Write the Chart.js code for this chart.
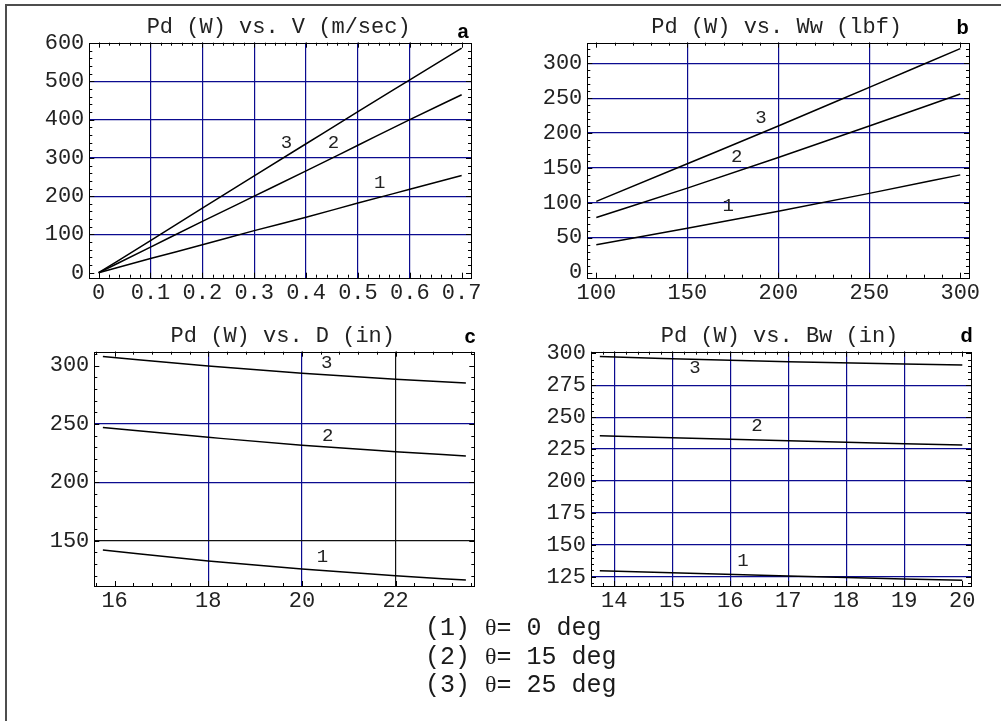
<!DOCTYPE html>
<html>
<head>
<meta charset="utf-8">
<script src="https://cdn.jsdelivr.net/npm/chart.js@4.4.0/dist/chart.umd.min.js"></script>
<style>
body { margin:0; background:#fff; width:1001px; height:721px; overflow:hidden; position:relative; }
canvas { position:absolute; }
#frame { position:absolute; left:5px; top:4px; width:1100px; height:800px;
  border-left:2px solid #4d4d4d; border-top:2px solid #4d4d4d; }
#legend { position:absolute; left:425px; top:615px; font:25px "Liberation Mono", monospace;
  color:#1a1a1a; white-space:pre; }
#legend div { height:28.5px; line-height:28.5px; overflow:visible; }
#legend .th { font-family:"Liberation Serif", serif; font-size:24px; line-height:0; }
</style>
</head>
<body>
<div id="frame"></div>
<canvas id="ca" width="500" height="310" style="left:0;top:0"></canvas>
<canvas id="cb" width="501" height="310" style="left:500px;top:0"></canvas>
<canvas id="cc" width="500" height="310" style="left:0;top:310px"></canvas>
<canvas id="cd" width="501" height="310" style="left:500px;top:310px"></canvas>
<div id="legend"></div>
<script>
// (a) Pd (W) vs. V (m/sec)
var vSpeed = [0, 0.1, 0.2, 0.3, 0.4, 0.5, 0.6, 0.7];
var pdV1 = [0, 37, 73, 110, 145, 182, 218, 254];
var pdV2 = [0, 67, 134, 200, 266, 333, 400, 465];
var pdV3 = [0, 84, 169, 253, 337, 421, 504, 587];
var vTicks = [0, 0.1, 0.2, 0.3, 0.4, 0.5, 0.6, 0.7];
var pdVTicks = [0, 100, 200, 300, 400, 500, 600];

// (b) Pd (W) vs. Ww (lbf)
var wWeight = [100, 150, 200, 250, 300];
var pdW1 = [40, 63.5, 88, 113.5, 140];
var pdW2 = [79, 121, 165, 210, 256];
var pdW3 = [102, 156, 210, 265.5, 321];
var wTicks = [100, 150, 200, 250, 300];
var pdWTicks = [0, 50, 100, 150, 200, 250, 300];

// (c) Pd (W) vs. D (in)
var dDiam = [15.75, 18, 20, 22, 23.5];
var pdD1 = [142, 132.6, 125.7, 120, 116.3];
var pdD2 = [247, 238.6, 231.7, 226.3, 222.6];
var pdD3 = [307.7, 299.7, 293.4, 288.3, 285.1];
var dTicks = [16, 18, 20, 22];
var pdDTicks = [150, 200, 250, 300];

// (d) Pd (W) vs. Bw (in)
var bWidth = [13.75, 17, 20];
var pdB1 = [129.7, 125.5, 122.2];
var pdB2 = [235.4, 231.5, 228.1];
var pdB3 = [297.4, 293.4, 290.9];
var bTicks = [14, 15, 16, 17, 18, 19, 20];
var pdBTicks = [125, 150, 175, 200, 225, 250, 275, 300];

var curveNames = ['1', '2', '3'];
var legendLines = ['(1) ', '\u03b8', '= 0 deg', '(2) ', '\u03b8', '= 15 deg', '(3) ', '\u03b8', '= 25 deg'];

var NAVY = '#0b0b8f';
var MONO = '"Liberation Mono", "Courier New", monospace';

var panelDeco = {
  id: 'panelDeco',
  afterDraw: function(chart) {
    var o = chart.options.plugins.panelDeco;
    var ctx = chart.ctx, a = chart.chartArea;
    var xs = chart.scales.x, ys = chart.scales.y;
    ctx.save();
    // frame
    ctx.strokeStyle = '#000';
    ctx.lineWidth = 1;
    ctx.strokeRect(Math.round(a.left) + 0.5, Math.round(a.top) + 0.5,
      Math.round(a.right - a.left), Math.round(a.bottom - a.top));
    // inward ticks on all four sides
    ctx.beginPath();
    function tickX(v, len) {
      var p = Math.round(xs.getPixelForValue(v)) + 0.5;
      ctx.moveTo(p, a.bottom); ctx.lineTo(p, a.bottom - len);
      ctx.moveTo(p, a.top); ctx.lineTo(p, a.top + len);
    }
    function tickY(v, len) {
      var p = Math.round(ys.getPixelForValue(v)) + 0.5;
      ctx.moveTo(a.left, p); ctx.lineTo(a.left + len, p);
      ctx.moveTo(a.right, p); ctx.lineTo(a.right - len, p);
    }
    o.xTicks.forEach(function(v) { tickX(v, 5); });
    o.yTicks.forEach(function(v) { tickY(v, 5); });
    var v;
    for (v = Math.ceil(xs.min / o.minorX) * o.minorX; v <= xs.max; v += o.minorX) tickX(v, 3);
    for (v = Math.ceil(ys.min / o.minorY) * o.minorY; v <= ys.max; v += o.minorY) tickY(v, 3);
    ctx.stroke();
    // title
    ctx.fillStyle = '#222';
    ctx.font = '22px ' + MONO;
    ctx.textAlign = 'center';
    ctx.textBaseline = 'alphabetic';
    ctx.fillText(o.title, (a.left + a.right) / 2 - 1.5, a.top - 10);
    // panel letter
    ctx.font = 'bold 20px "Liberation Sans", Arial, sans-serif';
    ctx.fillStyle = '#000';
    ctx.fillText(o.letter, o.letterPos[0], o.letterPos[1]);
    // curve labels
    ctx.font = '19px ' + MONO;
    ctx.fillStyle = '#222';
    ctx.textBaseline = 'middle';
    o.curveLabels.forEach(function(l, i) {
      ctx.fillText(curveNames[i], xs.getPixelForValue(l[0]), ys.getPixelForValue(l[1]));
    });
    ctx.restore();
  }
};

function makePanel(id, p) {
  var datasets = p.series.map(function(ys) {
    return {
      data: p.x.map(function(x, i) { return { x: x, y: ys[i] }; }),
      borderColor: '#000', borderWidth: 1.5, pointRadius: 0,
      cubicInterpolationMode: 'monotone', fill: false
    };
  });
  function gridColor(list, dark) {
    return function(c) {
      var val = c.tick.value;
      if (dark.indexOf(val) >= 0) return '#111';
      return list.indexOf(val) >= 0 ? NAVY : 'rgba(0,0,0,0)';
    };
  }
  return new Chart(document.getElementById(id).getContext('2d'), {
    type: 'line',
    data: { datasets: datasets },
    options: {
      responsive: false, animation: false, devicePixelRatio: 1,
      layout: { padding: { left: 0, top: p.box.top, right: p.box.right, bottom: 0 } },
      plugins: {
        legend: { display: false }, tooltip: { enabled: false },
        panelDeco: {
          title: p.title, letter: p.letter, letterPos: p.letterPos,
          xTicks: p.xTicks, yTicks: p.yTicks, minorX: p.minor[0], minorY: p.minor[1],
          curveLabels: p.curveLabels
        }
      },
      scales: {
        x: {
          type: 'linear', min: p.xRange[0], max: p.xRange[1],
          border: { display: false },
          grid: { drawTicks: false, lineWidth: 1.2, color: gridColor(p.gridX, p.darkX || []) },
          afterBuildTicks: function(s) { s.ticks = p.xTicks.map(function(v) { return { value: v }; }); },
          afterFit: function(s) { s.height = p.box.xh; },
          ticks: { padding: 2, color: '#222', font: { family: MONO, size: 22 }, maxRotation: 0, autoSkip: false,
            callback: function(v) { return String(v); } }
        },
        y: {
          type: 'linear', min: p.yRange[0], max: p.yRange[1],
          border: { display: false },
          grid: { drawTicks: false, lineWidth: 1.2, color: gridColor(p.gridY, p.darkY || []) },
          afterBuildTicks: function(s) { s.ticks = p.yTicks.map(function(v) { return { value: v }; }); },
          afterFit: function(s) { s.width = p.box.yw; },
          ticks: { padding: 5, color: '#222', font: { family: MONO, size: 22 }, autoSkip: false,
            callback: function(v) { return String(v); } }
        }
      }
    },
    plugins: [panelDeco]
  });
}

makePanel('ca', {
  title: 'Pd (W) vs. V (m/sec)', letter: 'a', letterPos: [463, 38],
  x: vSpeed, series: [pdV1, pdV2, pdV3],
  xTicks: vTicks, yTicks: pdVTicks, minor: [0.02, 20],
  gridX: [0.1, 0.2, 0.3, 0.4, 0.5, 0.6], gridY: [100, 200, 300, 400, 500],
  xRange: [-0.018, 0.718], yRange: [-13, 601],
  box: { yw: 89.3, top: 42.7, right: 29, xh: 32.3 },
  curveLabels: [[0.542, 234.8], [0.453, 339.4], [0.362, 337.9]]
});

makePanel('cb', {
  title: 'Pd (W) vs. Ww (lbf)', letter: 'b', letterPos: [462.7, 33.5],
  x: wWeight, series: [pdW1, pdW2, pdW3],
  xTicks: wTicks, yTicks: pdWTicks, minor: [10, 10],
  gridX: [150, 200, 250], gridY: [50, 100, 150, 200, 250, 300],
  xRange: [95.05, 304.8], yRange: [-7.4, 329.5],
  box: { yw: 87.3, top: 42.7, right: 32, xh: 32.3 },
  curveLabels: [[172.5, 95.7], [177.1, 165.9], [190.5, 222.3]]
});

makePanel('cc', {
  title: 'Pd (W) vs. D (in)', letter: 'c', letterPos: [470, 32.5],
  x: dDiam, series: [pdD1, pdD2, pdD3],
  xTicks: dTicks, yTicks: pdDTicks, minor: [0.4, 10],
  gridX: [18, 20], gridY: [200, 250], darkX: [22], darkY: [150],
  xRange: [15.567, 23.68], yRange: [111.2, 311.9],
  box: { yw: 94.3, top: 41.7, right: 25.7, xh: 34 },
  curveLabels: [[20.44, 135.8], [20.55, 240], [20.53, 302]]
});

makePanel('cd', {
  title: 'Pd (W) vs. Bw (in)', letter: 'd', letterPos: [466.7, 31.7],
  x: bWidth, series: [pdB1, pdB2, pdB3],
  xTicks: bTicks, yTicks: pdBTicks, minor: [0.2, 5],
  gridX: [14, 15, 16, 17, 18, 19], gridY: [125, 150, 175, 200, 225, 250, 275],
  xRange: [13.598, 20.15], yRange: [117.7, 301.25],
  box: { yw: 91, top: 41.7, right: 30, xh: 34 },
  curveLabels: [[16.22, 137.3], [16.46, 243], [15.39, 288.7]]
});

// legend below the panels
var lg = document.getElementById('legend');
for (var i = 0; i < legendLines.length; i += 3) {
  var row = document.createElement('div');
  row.appendChild(document.createTextNode(legendLines[i]));
  var th = document.createElement('span');
  th.className = 'th';
  th.textContent = legendLines[i + 1];
  row.appendChild(th);
  row.appendChild(document.createTextNode(legendLines[i + 2]));
  lg.appendChild(row);
}
</script>
</body>
</html>
